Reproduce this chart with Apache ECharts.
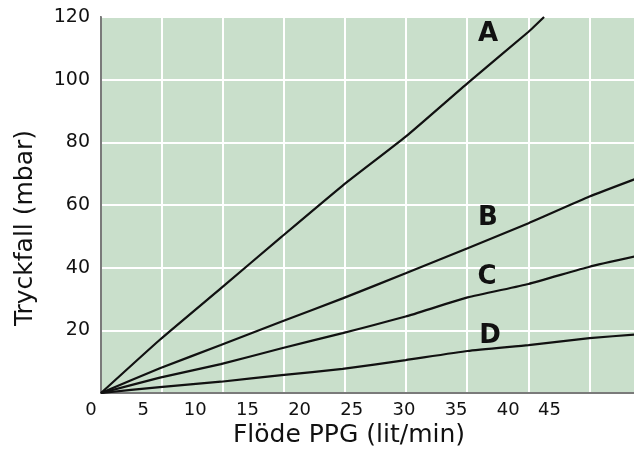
<!DOCTYPE html>
<html><head><meta charset="utf-8">
<script src="https://cdn.jsdelivr.net/npm/echarts@6/dist/echarts.min.js"></script>
<style>html,body{margin:0;padding:0;background:#fff}#c{width:634px;height:450px}</style>
</head><body><div id="c"></div>
<script>
// Flow (lit/min) sample positions and pressure drop (mbar) per curve
const flowA = [0, 5.7, 11.6, 17.5, 23.4, 29.5, 35.5, 41.4, 42.9];
const pressA = [0, 17.0, 33.4, 49.9, 66.2, 81.8, 98.9, 115.3, 120];
const flowBCD = [0, 5.7, 11.6, 17.5, 23.4, 29.5, 35.5, 41.4, 47.3, 51.9];
const pressB = [0, 7.9, 15.3, 22.8, 30.2, 38.2, 46.2, 54.2, 62.7, 68.5];
const pressC = [0, 4.9, 9.2, 14.3, 19.1, 24.4, 30.5, 34.8, 40.3, 43.7];
const pressD = [0, 1.9, 3.6, 5.7, 7.7, 10.5, 13.4, 15.3, 17.5, 18.7];
const xTickLabels = [0, 5, 10, 15, 20, 25, 30, 35, 40, 45];
const curveNames = ['A', 'B', 'C', 'D'];
const xName = 'Flöde PPG (lit/min)';
const yName = 'Tryckfall (mbar)';

const pair = (xs, ys) => xs.map((x, i) => [x, ys[i]]);
const chart = echarts.init(document.getElementById('c'), null, {renderer: 'canvas'});
const font = '"DejaVu Sans", "Open Sans", sans-serif';
const lineSeries = (name, data) => ({
  name, type: 'line', xAxisIndex: 0, yAxisIndex: 0, data,
  symbol: 'none', smooth: 0.15,
  lineStyle: {color: '#111', width: 2.2}, z: 5
});
const curveLabel = (i, x, y) => ({
  type: 'text', x, y, z: 10,
  style: {text: curveNames[i], font: 'bold 26px ' + font, fill: '#111',
          textAlign: 'center', textVerticalAlign: 'middle'}
});
chart.setOption({
  animation: false,
  backgroundColor: '#fff',
  grid: [
    {left: 101, right: -3, top: 17, bottom: 57, show: true, backgroundColor: '#c9dfcb',
     borderColor: '#7a7a7a', borderWidth: 2, outerBoundsMode: 'none'},
    {left: 91, width: 469.4, top: 17, bottom: 57, show: false, outerBoundsMode: 'none'}
  ],
  xAxis: [
    {type: 'value', gridIndex: 0, min: 0, max: 51.9, interval: 5.91,
     axisLine: {show: true, lineStyle: {color: '#7a7a7a', width: 2}}, axisTick: {show: false},
     axisLabel: {show: false}, splitLine: {show: true, lineStyle: {color: '#ffffff', width: 2}}},
    {type: 'value', gridIndex: 1, min: 0, max: 45, interval: 5,
     axisLine: {show: false}, axisTick: {show: false}, splitLine: {show: false},
     axisLabel: {show: true, margin: 8, fontFamily: font, fontSize: 18, color: '#111',
       customValues: xTickLabels,
       formatter: v => (v === 45 ? '{last|45}' : String(v)),
       rich: {last: {fontFamily: font, fontSize: 18, color: '#111', padding: [0, 22, 0, 0]}}}}
  ],
  yAxis: [
    {type: 'value', gridIndex: 0, min: 0, max: 120, interval: 20,
     axisLine: {show: true, lineStyle: {color: '#7a7a7a', width: 2}}, axisTick: {show: false},
     axisLabel: {margin: 11, fontFamily: font, fontSize: 19, color: '#111',
       formatter: v => (v === 0 ? '' : String(v))},
     splitLine: {show: true, lineStyle: {color: '#ffffff', width: 2}}},
    {type: 'value', gridIndex: 1, min: 0, max: 120, show: false}
  ],
  series: [
    lineSeries(curveNames[0], pair(flowA, pressA)),
    lineSeries(curveNames[1], pair(flowBCD, pressB)),
    lineSeries(curveNames[2], pair(flowBCD, pressC)),
    lineSeries(curveNames[3], pair(flowBCD, pressD))
  ],
  graphic: [
    curveLabel(0, 488, 34),
    curveLabel(1, 488, 218),
    curveLabel(2, 487, 277),
    curveLabel(3, 490, 336),
    {type: 'text', x: 349, y: 435,
     style: {text: xName, font: '25px ' + font, fill: '#111', textAlign: 'center', textVerticalAlign: 'middle'}},
    {type: 'text', x: 25, y: 228, rotation: Math.PI / 2,
     style: {text: yName, font: '25px ' + font, fill: '#111', textAlign: 'center', textVerticalAlign: 'middle'}}
  ]
});
</script></body></html>
